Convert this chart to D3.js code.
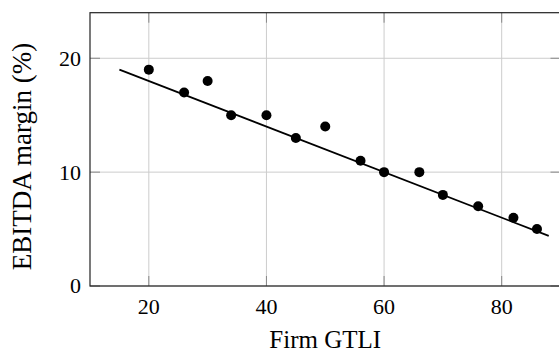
<!DOCTYPE html>
<html>
<head>
<meta charset="utf-8">
<script src="https://cdn.jsdelivr.net/npm/d3@7"></script>
<style>
html,body{margin:0;padding:0;background:#fff;}
svg{display:block;}
</style>
</head>
<body>
<svg id="chart" width="559" height="352"></svg>
<script>
const gtli = [20, 26, 30, 34, 40, 45, 50, 56, 60, 66, 70, 76, 82, 86];
const margin = [19, 17, 18, 15, 15, 13, 14, 11, 10, 10, 8, 7, 6, 5];
const fitX = [15, 88];
const fitY = [19, 4.4];
const xTicks = [20, 40, 60, 80];
const yTicks = [0, 10, 20];
const xDomain = [10, 90];
const yDomain = [0, 24];
const xLabel = "Firm GTLI";
const yLabel = "EBITDA margin (%)";

const svg = d3.select("#chart");
const L = 90, R = 560.5, T = 12.7, B = 286;
const x = d3.scaleLinear().domain(xDomain).range([L, R]);
const y = d3.scaleLinear().domain(yDomain).range([B, T]);
const font = "'Liberation Serif','Times New Roman',serif";
const tickLen = 10;

// grid
const grid = svg.append("g").attr("stroke", "#cccccc").attr("stroke-width", 1);
xTicks.forEach(t => grid.append("line").attr("x1", x(t)).attr("x2", x(t)).attr("y1", T).attr("y2", B));
yTicks.forEach(t => grid.append("line").attr("x1", L).attr("x2", R).attr("y1", y(t)).attr("y2", y(t)));

// ticks (inside, on both sides)
const tk = svg.append("g").attr("stroke", "#888888").attr("stroke-width", 1);
xTicks.forEach(t => {
  tk.append("line").attr("x1", x(t)).attr("x2", x(t)).attr("y1", B).attr("y2", B - tickLen);
  tk.append("line").attr("x1", x(t)).attr("x2", x(t)).attr("y1", T).attr("y2", T + tickLen);
});
yTicks.forEach(t => {
  tk.append("line").attr("x1", L).attr("x2", L + tickLen).attr("y1", y(t)).attr("y2", y(t));
  tk.append("line").attr("x1", R).attr("x2", R - tickLen).attr("y1", y(t)).attr("y2", y(t));
});

// axis box
svg.append("rect").attr("x", L).attr("y", T).attr("width", R - L).attr("height", B - T)
  .attr("fill", "none").attr("stroke", "#222").attr("stroke-width", 1.2);

// tick labels
svg.append("g").selectAll("text").data(xTicks).join("text")
  .attr("x", d => x(d)).attr("y", 313.5).attr("text-anchor", "middle")
  .attr("font-family", font).attr("font-size", 22).attr("fill", "#000").text(d => d);
svg.append("g").selectAll("text").data(yTicks).join("text")
  .attr("x", 81).attr("y", d => y(d)).attr("dy", "0.34em").attr("text-anchor", "end")
  .attr("font-family", font).attr("font-size", 22).attr("fill", "#000").text(d => d);

// axis labels
svg.append("text").attr("x", (L + R) / 2).attr("y", 348).attr("text-anchor", "middle")
  .attr("font-family", font).attr("font-size", 25).attr("fill", "#000").text(xLabel);
svg.append("text").attr("transform", "translate(30.5,156.5) rotate(-90)").attr("text-anchor", "middle")
  .attr("font-family", font).attr("font-size", 27).attr("fill", "#000").text(yLabel);

// fit line
svg.append("line").attr("x1", x(fitX[0])).attr("y1", y(fitY[0])).attr("x2", x(fitX[1])).attr("y2", y(fitY[1]))
  .attr("stroke", "#000").attr("stroke-width", 1.8);

// points
svg.append("g").selectAll("circle").data(gtli.map((g, i) => [g, margin[i]])).join("circle")
  .attr("cx", d => x(d[0])).attr("cy", d => y(d[1])).attr("r", 5).attr("fill", "#000");
</script>
</body>
</html>
